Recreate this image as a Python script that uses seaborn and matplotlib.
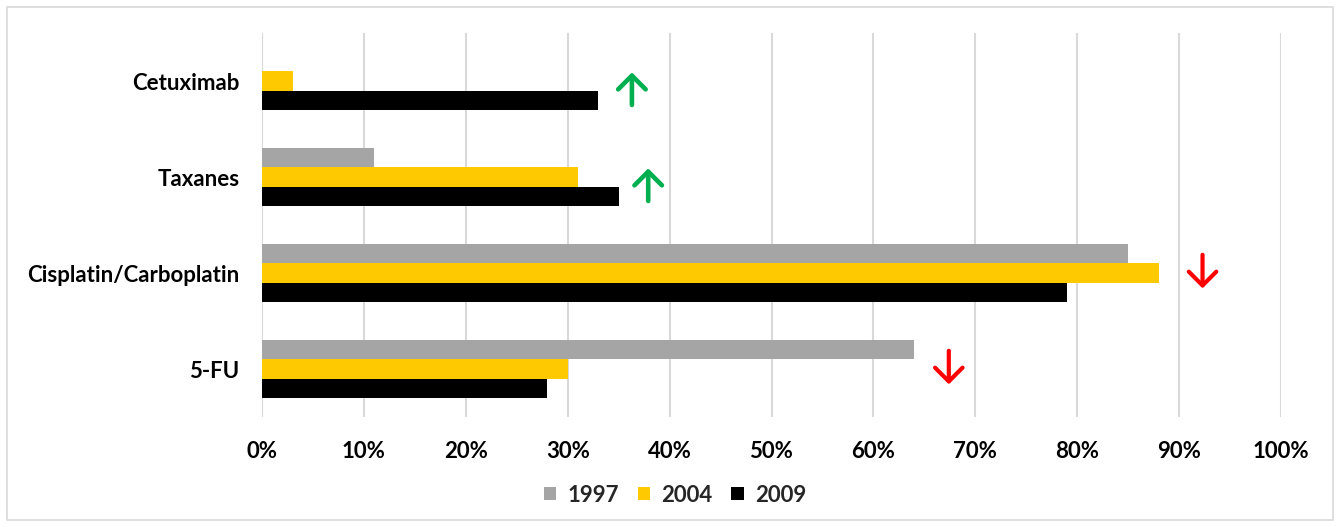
import matplotlib
matplotlib.use("Agg")
import matplotlib.pyplot as plt
import matplotlib.patches as mpatches
from matplotlib.ticker import PercentFormatter
import seaborn as sns
import pandas as pd

# ---- data ----
drugs = ["Cetuximab", "Taxanes", "Cisplatin/Carboplatin", "5-FU"]
years = ["1997", "2004", "2009"]
v1997 = [0, 11, 85, 64]
v2004 = [3, 31, 88, 30]
v2009 = [33, 35, 79, 28]
colors = ["#A5A5A5", "#FFC900", "#000000"]

# trend arrows: (drug, x position in %, direction)
arrow_drugs = ["Cetuximab", "Taxanes", "Cisplatin/Carboplatin", "5-FU"]
arrow_x = [36.3, 37.9, 92.3, 67.4]
arrow_dir = ["up", "up", "down", "down"]

rows = []
for yr, vals in zip(years, [v1997, v2004, v2009]):
    for d, v in zip(drugs, vals):
        rows.append({"drug": d, "year": yr, "value": v})
df = pd.DataFrame(rows)

sns.set_theme(style="white")
plt.rcParams["font.family"] = ["Lato", "DejaVu Sans"]

fig = plt.figure(figsize=(13.4, 5.27), dpi=100)
ax = fig.add_axes([262 / 1340, 1 - 417 / 527, (1281 - 262) / 1340, (417 - 33) / 527])

sns.barplot(data=df, y="drug", x="value", hue="year", order=drugs, hue_order=years,
            palette=colors, orient="h", width=0.6, ax=ax, errorbar=None,
            saturation=1, edgecolor="none", zorder=3)

ax.set_xlim(0, 100)
ax.set_ylim(3.5, -0.5)
ax.set_xticks(range(0, 101, 10))
ax.xaxis.set_major_formatter(PercentFormatter(decimals=0))
ax.grid(axis="x", color="#D9D9D9", lw=1.5, zorder=0)
ax.grid(axis="y", visible=False)
for s in ax.spines.values():
    s.set_visible(False)
ax.tick_params(axis="both", length=0, labelsize=16, colors="#000000")
ax.tick_params(axis="x", pad=17)
ax.tick_params(axis="y", pad=16)
for t in ax.get_xticklabels() + ax.get_yticklabels():
    t.set_fontweight("bold")
ax.set_xlabel("")
ax.set_ylabel("")

# arrows
for d, xv, dr in zip(arrow_drugs, arrow_x, arrow_dir):
    i = drugs.index(d)
    if dr == "up":
        ax.annotate("", xy=(xv, i - 0.09), xytext=(xv, i + 0.25),
                    arrowprops=dict(arrowstyle="->,head_length=0.45,head_width=0.45",
                                    color="#00B050", lw=3.3,
                                    mutation_scale=22, shrinkA=0, shrinkB=0))
    else:
        ax.annotate("", xy=(xv, i + 0.16), xytext=(xv, i - 0.19),
                    arrowprops=dict(arrowstyle="->,head_length=0.45,head_width=0.45",
                                    color="#FF0000", lw=3.0,
                                    mutation_scale=22, shrinkA=0, shrinkB=0))

leg = ax.legend(loc="center", bbox_to_anchor=(675 / 1340, 1 - 495 / 527),
                bbox_transform=fig.transFigure, ncol=3, frameon=False,
                handlelength=0.55, handleheight=0.55, handletextpad=0.5,
                columnspacing=0.85, prop={"weight": "bold", "size": 16})

fig.patches.append(mpatches.Rectangle((7 / 1340, 7 / 527), 1326 / 1340, 513 / 527,
                                      transform=fig.transFigure, fill=False,
                                      edgecolor="#D9D9D9", lw=1.2))

fig.savefig("out.png", dpi=100)
